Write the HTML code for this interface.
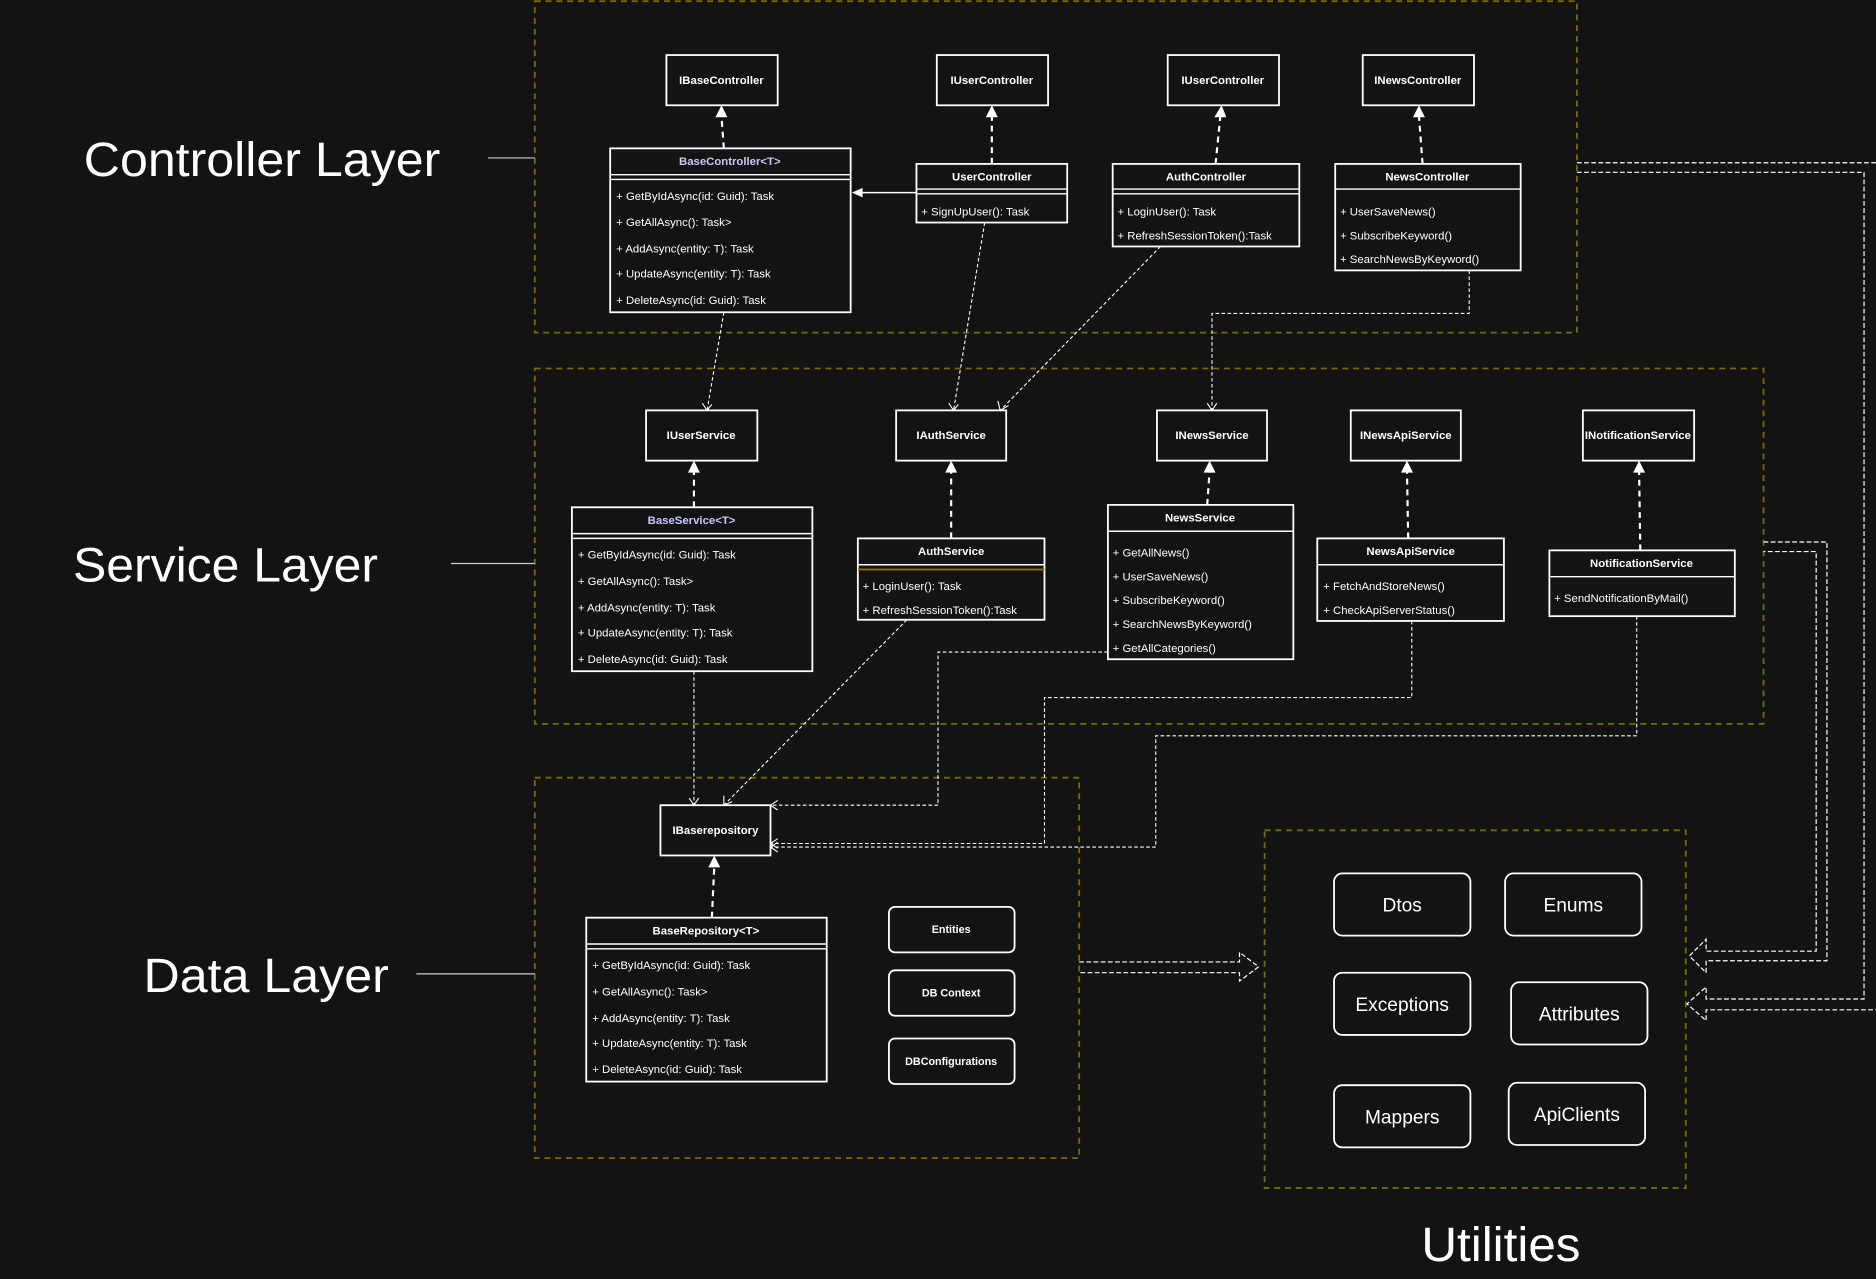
<!DOCTYPE html>
<html><head><meta charset="utf-8"><style>
html,body{margin:0;padding:0;background:#131313;}
svg{display:block;}
text{font-family:"Liberation Sans",Arial,sans-serif;fill:#fff;}
.h{font-size:9.5px;font-weight:bold;text-anchor:middle;}
.i{font-size:9.5px;}
.b{fill:none;stroke:#fff;stroke-width:1.5;}
.c{fill:none;stroke:#7a6a00;stroke-width:1.5;stroke-dasharray:5 4;}
.d{fill:none;stroke:#fff;stroke-width:1.8;stroke-dasharray:5 4;}
.t{fill:none;stroke:#fff;stroke-width:0.9;stroke-dasharray:3 2;}
.u{fill:none;stroke:#fff;stroke-width:1;stroke-dasharray:4 2;}
.big{font-size:40px;}
.ut{font-size:16px;text-anchor:middle;}
.e{font-size:9px;font-weight:bold;text-anchor:middle;}
</style></head><body>
<svg width="1876" height="1279" viewBox="0 0 1568 1069" preserveAspectRatio="none" xmlns="http://www.w3.org/2000/svg">
<rect width="1568" height="1069" fill="#131313"/>
<rect class="c" x="447" y="1" width="871" height="277"/>
<rect class="c" x="447" y="308" width="1027" height="297"/>
<rect class="c" x="447" y="650" width="455" height="318"/>
<rect class="c" x="1057" y="694" width="352" height="299"/>
<text class="big" x="70" y="147" textLength="298" lengthAdjust="spacingAndGlyphs">Controller Layer</text>
<line x1="408" y1="132" x2="447" y2="132" stroke="#ccc" stroke-width="1"/>
<text class="big" x="61" y="486" textLength="255" lengthAdjust="spacingAndGlyphs">Service Layer</text>
<line x1="377" y1="471" x2="447" y2="471" stroke="#ccc" stroke-width="1"/>
<text class="big" x="120" y="829" textLength="205" lengthAdjust="spacingAndGlyphs">Data Layer</text>
<line x1="348" y1="814" x2="447" y2="814" stroke="#ccc" stroke-width="1"/>
<text class="big" x="1188" y="1054" textLength="133" lengthAdjust="spacingAndGlyphs">Utilities</text>

<rect class="b" x="557" y="46" width="93" height="42"/><text class="h" x="603" y="70">IBaseController</text>
<rect class="b" x="783" y="46" width="93" height="42"/><text class="h" x="829" y="70">IUserController</text>
<rect class="b" x="976" y="46" width="93" height="42"/><text class="h" x="1022" y="70">IUserController</text>
<rect class="b" x="1139" y="46" width="93" height="42"/><text class="h" x="1185" y="70">INewsController</text>

<rect class="b" x="510" y="124" width="201" height="137"/>
<line x1="510" y1="146" x2="711" y2="146" stroke="#fff" stroke-width="1.2"/>
<line x1="510" y1="150" x2="711" y2="150" stroke="#fff" stroke-width="1.2"/>
<text class="h" x="610" y="138" style="fill:#c8c8ff">BaseController&lt;T&gt;</text>
<text class="i" x="515" y="167">+ GetByIdAsync(id: Guid): Task</text>
<text class="i" x="515" y="189">+ GetAllAsync(): Task&gt;</text>
<text class="i" x="515" y="211">+ AddAsync(entity: T): Task</text>
<text class="i" x="515" y="232">+ UpdateAsync(entity: T): Task</text>
<text class="i" x="515" y="254">+ DeleteAsync(id: Guid): Task</text>

<rect class="b" x="766" y="137" width="126" height="49"/>
<line x1="766" y1="158" x2="892" y2="158" stroke="#fff" stroke-width="1.2"/>
<line x1="766" y1="162" x2="892" y2="162" stroke="#fff" stroke-width="1.2"/>
<text class="h" x="829" y="151">UserController</text>
<text class="i" x="770" y="180">+ SignUpUser(): Task</text>

<rect class="b" x="930" y="137" width="156" height="69"/>
<line x1="930" y1="158" x2="1086" y2="158" stroke="#fff" stroke-width="1.2"/>
<line x1="930" y1="162" x2="1086" y2="162" stroke="#fff" stroke-width="1.2"/>
<text class="h" x="1008" y="151">AuthController</text>
<text class="i" x="934" y="180">+ LoginUser(): Task</text>
<text class="i" x="934" y="200">+ RefreshSessionToken():Task</text>

<rect class="b" x="1116" y="137" width="155" height="89"/>
<line x1="1116" y1="158" x2="1271" y2="158" stroke="#fff" stroke-width="1.2"/>
<text class="h" x="1193" y="151">NewsController</text>
<text class="i" x="1120" y="180">+ UserSaveNews()</text>
<text class="i" x="1120" y="200">+ SubscribeKeyword()</text>
<text class="i" x="1120" y="220">+ SearchNewsByKeyword()</text>

<rect class="b" x="540" y="343" width="93" height="42"/><text class="h" x="586" y="367">IUserService</text>
<rect class="b" x="749" y="343" width="92" height="42"/><text class="h" x="795" y="367">IAuthService</text>
<rect class="b" x="967" y="343" width="92" height="42"/><text class="h" x="1013" y="367">INewsService</text>
<rect class="b" x="1129" y="343" width="92" height="42"/><text class="h" x="1175" y="367">INewsApiService</text>
<rect class="b" x="1323" y="343" width="93" height="42"/><text class="h" x="1369" y="367">INotificationService</text>

<rect class="b" x="478" y="424" width="201" height="137"/>
<line x1="478" y1="446" x2="679" y2="446" stroke="#fff" stroke-width="1.2"/>
<line x1="478" y1="450" x2="679" y2="450" stroke="#fff" stroke-width="1.2"/>
<text class="h" x="578" y="438" style="fill:#c8c8ff">BaseService&lt;T&gt;</text>
<text class="i" x="483" y="467">+ GetByIdAsync(id: Guid): Task</text>
<text class="i" x="483" y="489">+ GetAllAsync(): Task&gt;</text>
<text class="i" x="483" y="511">+ AddAsync(entity: T): Task</text>
<text class="i" x="483" y="532">+ UpdateAsync(entity: T): Task</text>
<text class="i" x="483" y="554">+ DeleteAsync(id: Guid): Task</text>

<rect class="b" x="717" y="450" width="156" height="68"/>
<line x1="717" y1="472" x2="873" y2="472" stroke="#fff" stroke-width="1.2"/>
<line x1="717" y1="476" x2="873" y2="476" stroke="#8a7a00" stroke-width="1.5"/>
<text class="h" x="795" y="464">AuthService</text>
<text class="i" x="721" y="493">+ LoginUser(): Task</text>
<text class="i" x="721" y="513">+ RefreshSessionToken():Task</text>

<rect class="b" x="926" y="422" width="155" height="129"/>
<line x1="926" y1="444" x2="1081" y2="444" stroke="#fff" stroke-width="1.2"/>
<text class="h" x="1003" y="436">NewsService</text>
<text class="i" x="930" y="465">+ GetAllNews()</text>
<text class="i" x="930" y="485">+ UserSaveNews()</text>
<text class="i" x="930" y="505">+ SubscribeKeyword()</text>
<text class="i" x="930" y="525">+ SearchNewsByKeyword()</text>
<text class="i" x="930" y="545">+ GetAllCategories()</text>

<rect class="b" x="1101" y="450" width="156" height="69"/>
<line x1="1101" y1="472" x2="1257" y2="472" stroke="#fff" stroke-width="1.2"/>
<text class="h" x="1179" y="464">NewsApiService</text>
<text class="i" x="1106" y="493">+ FetchAndStoreNews()</text>
<text class="i" x="1106" y="513">+ CheckApiServerStatus()</text>

<rect class="b" x="1295" y="460" width="155" height="55"/>
<line x1="1295" y1="482" x2="1450" y2="482" stroke="#fff" stroke-width="1.2"/>
<text class="h" x="1372" y="474">NotificationService</text>
<text class="i" x="1299" y="503">+ SendNotificationByMail()</text>

<rect class="b" x="552" y="673" width="92" height="42"/><text class="h" x="598" y="697">IBaserepository</text>
<rect class="b" x="490" y="767" width="201" height="137"/>
<line x1="490" y1="789" x2="691" y2="789" stroke="#fff" stroke-width="1.2"/>
<line x1="490" y1="793" x2="691" y2="793" stroke="#fff" stroke-width="1.2"/>
<text class="h" x="590" y="781">BaseRepository&lt;T&gt;</text>
<text class="i" x="495" y="810">+ GetByIdAsync(id: Guid): Task</text>
<text class="i" x="495" y="832">+ GetAllAsync(): Task&gt;</text>
<text class="i" x="495" y="854">+ AddAsync(entity: T): Task</text>
<text class="i" x="495" y="875">+ UpdateAsync(entity: T): Task</text>
<text class="i" x="495" y="897">+ DeleteAsync(id: Guid): Task</text>
<rect class="b" x="743" y="758" width="105" height="38" rx="5" stroke-width="1.2"/><text class="e" x="795" y="780">Entities</text>
<rect class="b" x="743" y="811" width="105" height="38" rx="5" stroke-width="1.2"/><text class="e" x="795" y="833">DB Context</text>
<rect class="b" x="743" y="868" width="105" height="38" rx="5" stroke-width="1.2"/><text class="e" x="795" y="890">DBConfigurations</text>

<rect class="b" x="1115" y="730" width="114" height="52" rx="7" stroke-width="1.2"/><text class="ut" x="1172" y="762">Dtos</text>
<rect class="b" x="1258" y="730" width="114" height="52" rx="7" stroke-width="1.2"/><text class="ut" x="1315" y="762">Enums</text>
<rect class="b" x="1115" y="813" width="114" height="52" rx="7" stroke-width="1.2"/><text class="ut" x="1172" y="845">Exceptions</text>
<rect class="b" x="1263" y="821" width="114" height="52" rx="7" stroke-width="1.2"/><text class="ut" x="1320" y="853">Attributes</text>
<rect class="b" x="1115" y="907" width="114" height="52" rx="7" stroke-width="1.2"/><text class="ut" x="1172" y="939">Mappers</text>
<rect class="b" x="1261" y="905" width="114" height="52" rx="7" stroke-width="1.2"/><text class="ut" x="1318" y="937">ApiClients</text>

<g fill="#fff">
<path class="d" d="M605 124 L603 97"/><polygon points="603,88 598,98 608,98"/>
<path class="d" d="M829 137 L829 97"/><polygon points="829,88 824,98 834,98"/>
<path class="d" d="M1016 137 L1020 97"/><polygon points="1021,88 1015,98 1025,98"/>
<path class="d" d="M1189 137 L1186 97"/><polygon points="1186,88 1181,98 1191,98"/>
<path class="d" d="M580 424 L580 394"/><polygon points="580,385 575,395 585,395"/>
<path class="d" d="M795 450 L795 394"/><polygon points="795,385 790,395 800,395"/>
<path class="d" d="M1009 422 L1011 394"/><polygon points="1011,385 1006,395 1016,395"/>
<path class="d" d="M1177 450 L1176 394"/><polygon points="1176,385 1171,395 1181,395"/>
<path class="d" d="M1371 460 L1370 394"/><polygon points="1370,385 1365,395 1375,395"/>
<path class="d" d="M595 767 L597 724"/><polygon points="597,715 592,725 602,725"/>
<line x1="766" y1="161" x2="721" y2="161" stroke="#fff" stroke-width="1.2"/><polygon points="712,161 721,157 721,165"/>
</g>

<g>
<path class="t" d="M605 261 L591 343"/>
<path class="t" d="M823 186 L797 343"/>
<path class="t" d="M970 206 L836 343"/>
<path class="t" d="M1228 226 L1228 262 L1013 262 L1013 343"/>
<path class="t" d="M580 561 L580 673"/>
<path class="t" d="M758 518 L605 673"/>
<path class="t" d="M926 545 L784 545 L784 673 L644 673"/>
<path class="t" d="M1180 519 L1180 583 L873 583 L873 705 L644 705"/>
<path class="t" d="M1368 515 L1368 615 L966 615 L966 708 L644 708"/>
</g>
<g stroke="#fff" stroke-width="0.9" fill="none">
<path d="M587 337 L591 343 L595 338"/>
<path d="M793 337 L797 343 L801 338"/>
<path d="M834 335 L836 343 L843 339"/>
<path d="M1009 337 L1013 343 L1017 337"/>
<path d="M576 667 L580 673 L584 667"/>
<path d="M605 665 L605 673 L612 670"/>
<path d="M650 669 L644 673 L650 677"/>
<path d="M650 701 L644 705 L650 709"/>
<path d="M650 704 L644 708 L650 712"/>
</g>

<g>
<path class="u" d="M902 804 L1036 804 L1036 796 L1052 808 L1036 820 L1036 813 L902 813"/>
<path class="u" d="M1474 453 L1527 453 L1527 803 L1426 803 L1426 813 L1412 799 L1426 785 L1426 795 L1518 795 L1518 461 L1474 461"/>
<path class="u" d="M1318 136 L1568 136 M1318 144 L1558 144 L1558 835 L1426 835 L1426 825 L1410 839 L1426 853 L1426 844 L1568 844"/>
</g>
</svg>
</body></html>
